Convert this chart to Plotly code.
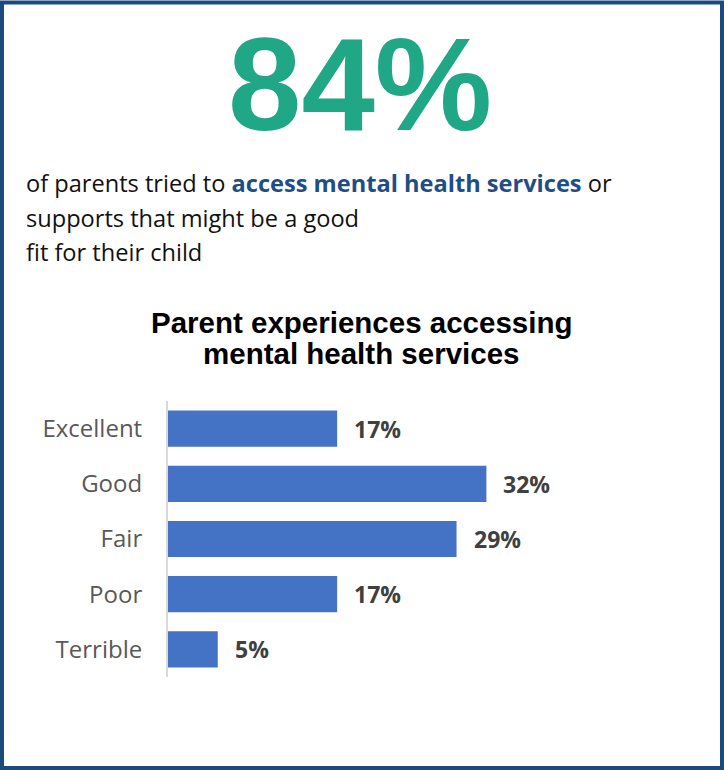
import plotly.graph_objects as go

# Survey data
categories = ["Excellent", "Good", "Fair", "Poor", "Terrible"]
shares = [17, 32, 29, 17, 5]
headline_value = 84

# Page geometry
W, H = 724, 770
L, R, T, B = 168, 158, 401, 93
PW, PH = W - L - R, H - T - B


def px_x(px):
    return (px - L) / PW


def px_y(py):
    return (H - B - py) / PH


BAR_BLUE = "#4472c4"
TEAL = "#1fa786"
NAVY = "#1b4a7c"
LINK_BLUE = "#1f4e87"

fig = go.Figure(
    go.Bar(
        x=shares,
        y=categories,
        orientation="h",
        marker=dict(color=BAR_BLUE, line=dict(width=0)),
        hoverinfo="skip",
    )
)

annotations = []

# Value labels placed just past each bar end
for cat, val in zip(categories, shares):
    annotations.append(dict(
        x=val, y=cat, xref="x", yref="y",
        text=f"<b>{val}%</b>", showarrow=False,
        xanchor="left", yanchor="middle", xshift=15, yshift=0,
        font=dict(family="Open Sans", size=23, color="#404040"),
    ))

# Headline figure
annotations.append(dict(
    x=px_x(360), y=px_y(84), xref="paper", yref="paper",
    text=f"<b>{headline_value}%</b>", showarrow=False,
    xanchor="center", yanchor="middle",
    font=dict(family="Liberation Sans", size=132, color=TEAL),
))

# Supporting sentence, one annotation per line
para_lines = [
    f"of parents tried to <b><span style='color:{LINK_BLUE}'>access mental health services</span></b> or",
    "supports that might be a good",
    "fit for their child",
]
for i, line in enumerate(para_lines):
    annotations.append(dict(
        x=px_x(24), y=px_y(183 + 34.5 * i), xref="paper", yref="paper",
        text=line, showarrow=False, xanchor="left", yanchor="middle",
        font=dict(family="Open Sans", size=23.6, color="#111111"),
    ))

# Chart title
title_lines = ["Parent experiences accessing", "mental health services"]
for i, line in enumerate(title_lines):
    annotations.append(dict(
        x=px_x(361), y=px_y(322 + 31 * i), xref="paper", yref="paper",
        text=f"<b>{line}</b>", showarrow=False, xanchor="center", yanchor="middle",
        font=dict(family="Liberation Sans", size=29.5, color="#000000"),
    ))

shapes = [
    # Frame around the whole card
    dict(type="rect", xref="paper", yref="paper",
         x0=px_x(2), x1=px_x(722), y0=px_y(2.5), y1=px_y(768),
         line=dict(color=NAVY, width=4), fillcolor="rgba(0,0,0,0)", layer="above"),
]

fig.update_layout(
    width=W, height=H,
    margin=dict(l=L, r=R, t=T, b=B, pad=0),
    paper_bgcolor="white", plot_bgcolor="white",
    showlegend=False,
    bargap=0.345,
    annotations=annotations,
    shapes=shapes,
    xaxis=dict(range=[0, 40], visible=False, fixedrange=True),
    yaxis=dict(
        categoryorder="array", categoryarray=categories[::-1],
        autorange=False, range=[-0.5, 4.5],
        showline=True, linecolor="#d9d9d9", linewidth=2,
        showgrid=False, zeroline=False, ticks="",
        ticklabelstandoff=19,
        tickfont=dict(family="Open Sans", size=24, color="#595959"),
        fixedrange=True,
    ),
)

fig.write_html("out.html", config={"displayModeBar": False})
